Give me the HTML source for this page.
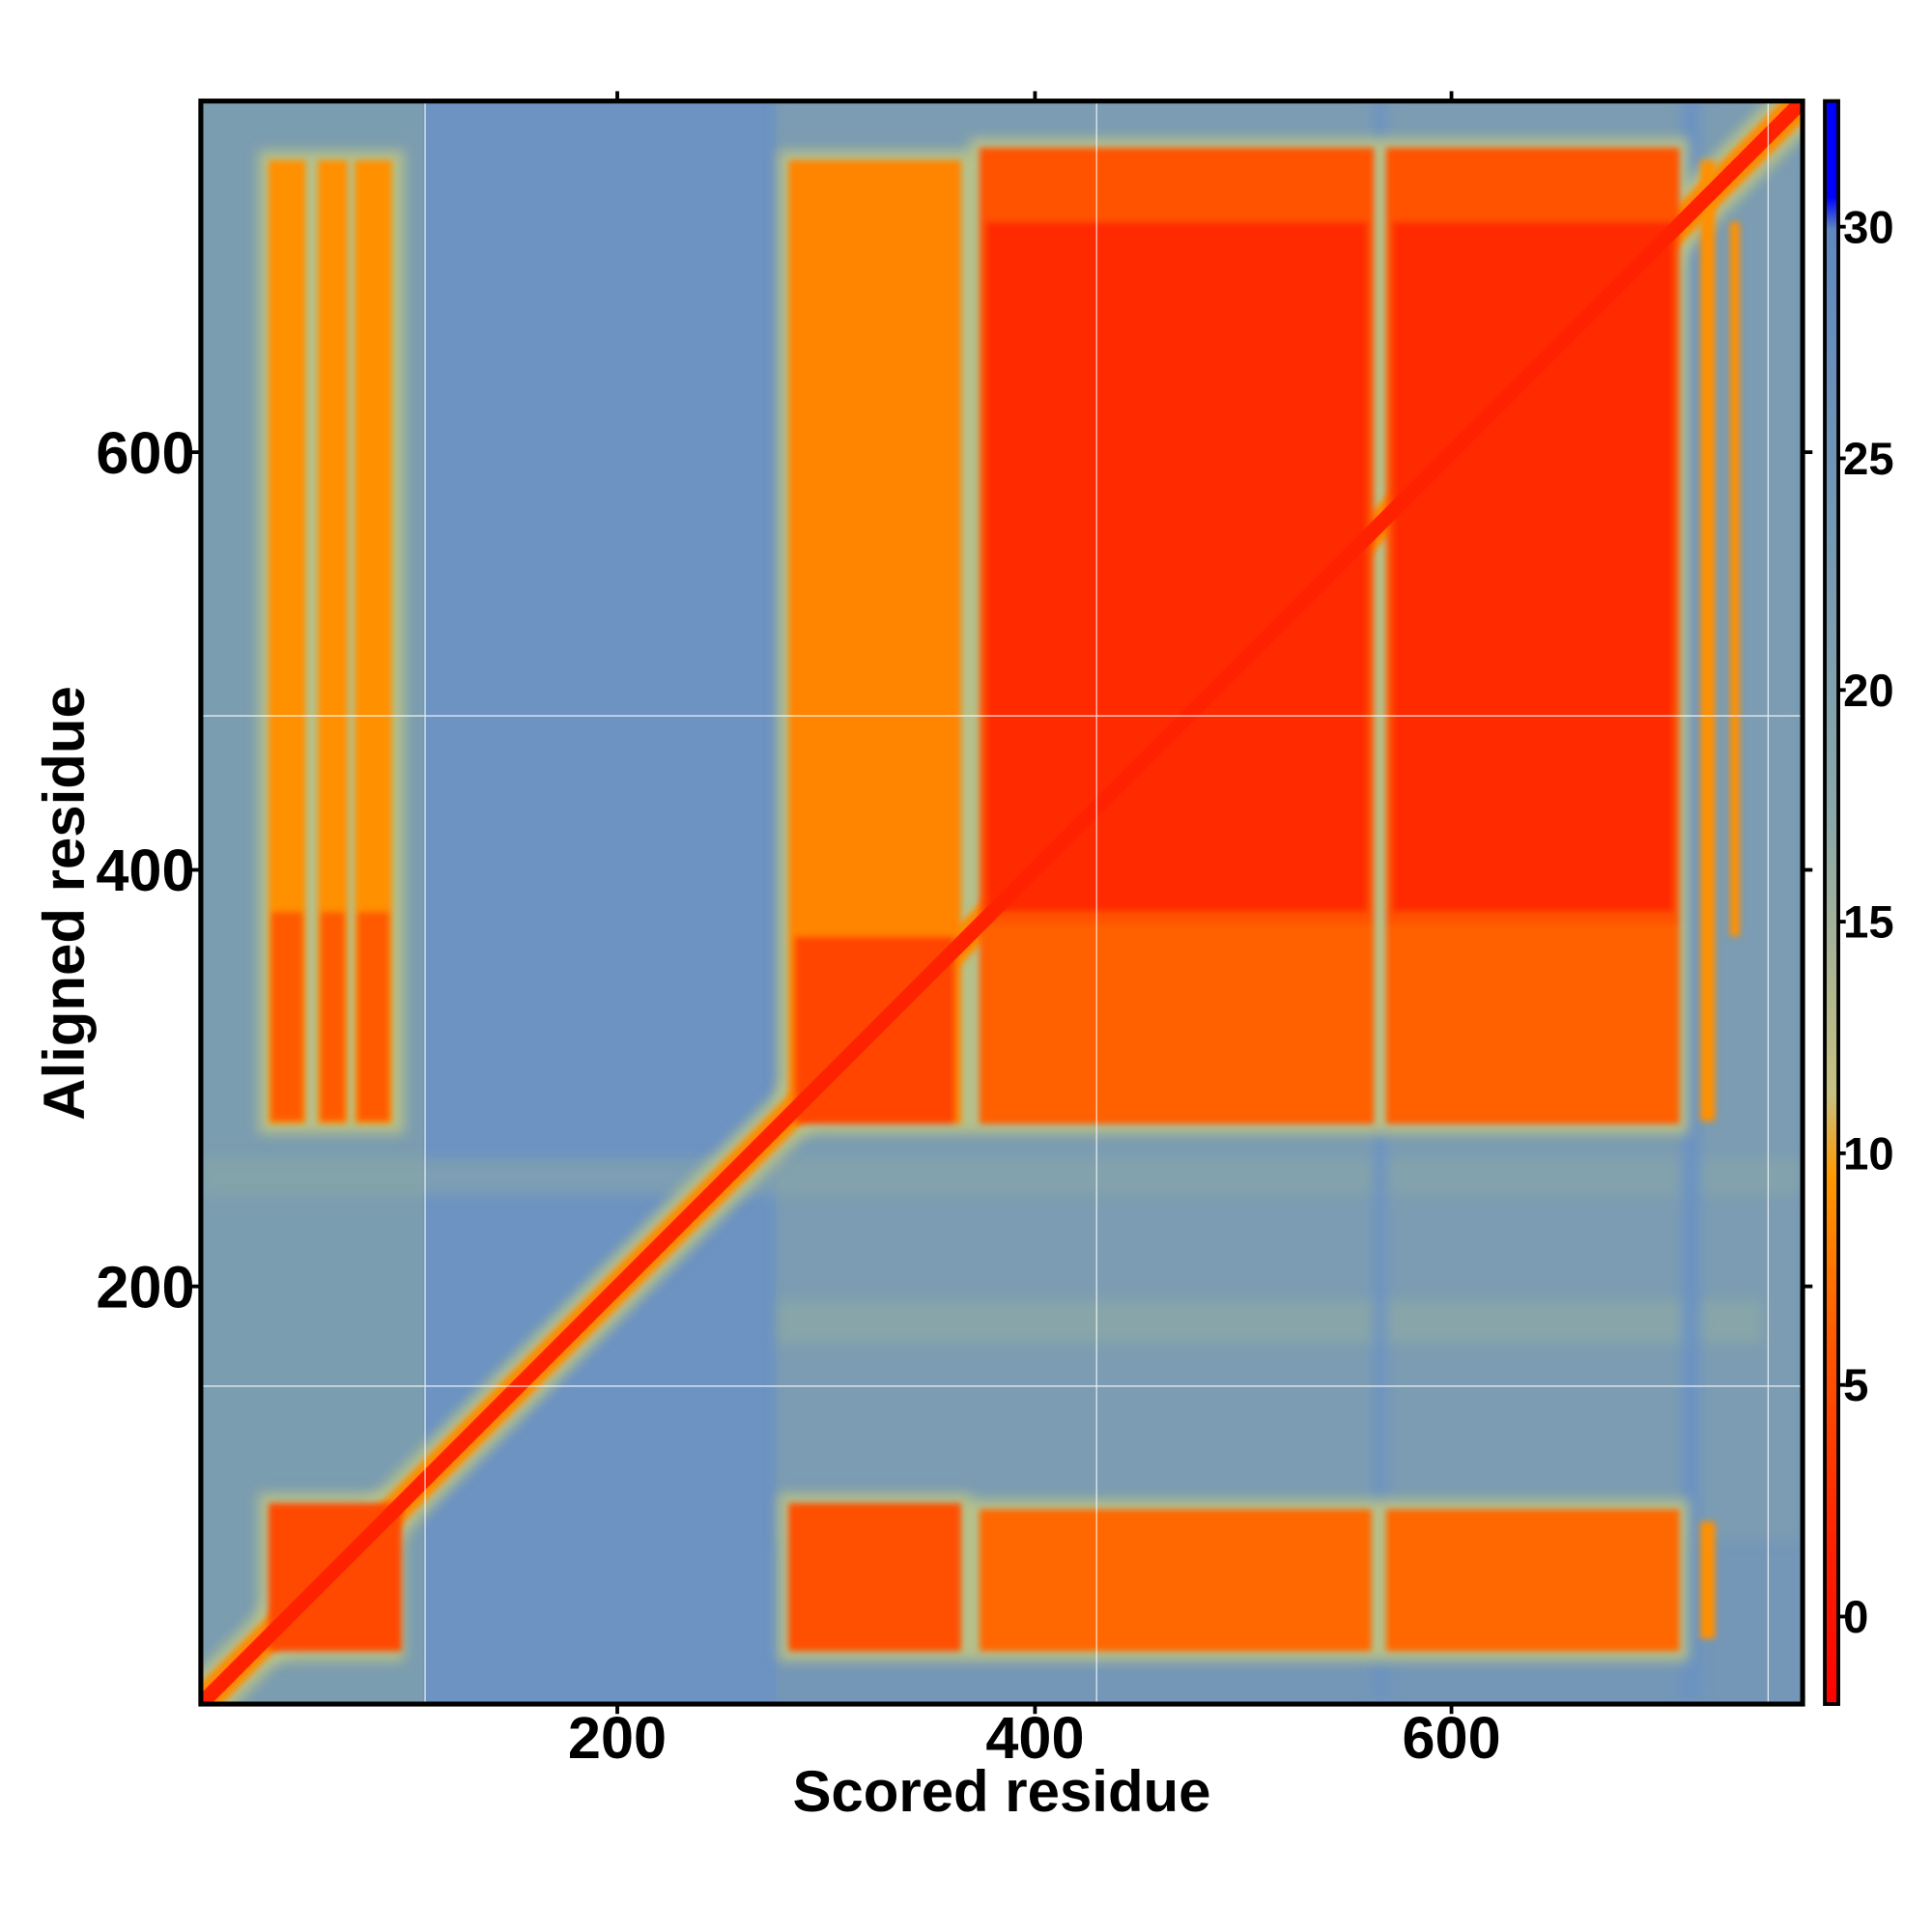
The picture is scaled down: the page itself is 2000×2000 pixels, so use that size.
<!DOCTYPE html>
<html><head><meta charset="utf-8"><style>
html,body{margin:0;padding:0;background:#fff;}
svg{display:block;}
text{font-family:"Liberation Sans",sans-serif;font-weight:bold;}
</style></head><body>
<svg width="2000" height="2000" viewBox="0 0 1568 1568" xmlns="http://www.w3.org/2000/svg">
<defs>
<filter id="b" x="-10%" y="-10%" width="120%" height="120%"><feGaussianBlur stdDeviation="5"/></filter>
<filter id="b2" x="-10%" y="-10%" width="120%" height="120%"><feGaussianBlur stdDeviation="2.5"/></filter>
<clipPath id="c"><rect x="163" y="82" width="1300" height="1301"/></clipPath>
<linearGradient id="cb" x1="0" y1="1" x2="0" y2="0">
<stop offset="0" stop-color="#ff0000"/>
<stop offset="0.1" stop-color="#ff2200"/>
<stop offset="0.22" stop-color="#ff5500"/>
<stop offset="0.33" stop-color="#ff9900"/>
<stop offset="0.38" stop-color="#c8c080"/>
<stop offset="0.55" stop-color="#8aa8a8"/>
<stop offset="0.92" stop-color="#5f88c0"/>
<stop offset="0.94" stop-color="#0000ff"/>
<stop offset="1" stop-color="#0000ff"/>
</linearGradient>
</defs>
<g clip-path="url(#c)">
<rect x="163" y="82" width="1300" height="1301" fill="#7497b8"/>
<rect x="345" y="82" width="285" height="1301" fill="#6c93c2"/>
<rect x="163" y="82" width="180" height="1301" fill="#7b9db0"/>
<g filter="url(#b)">
<rect x="163" y="940" width="1300" height="30" fill="#8eaaa5" opacity="0.5"/>
<rect x="630" y="1055" width="800" height="35" fill="#98b0a0" opacity="0.6"/>
<rect x="630" y="80" width="830" height="1170" fill="#88a4ab" opacity="0.4"/>
<rect x="1115" y="80" width="10" height="1300" fill="#6b93c2"/>
<rect x="1365" y="80" width="15" height="1300" fill="#6b93c2"/>
</g>
<line x1="163" y1="1383" x2="1463" y2="82" stroke="#b5c08a" stroke-width="40" filter="url(#b)"/>
<g filter="url(#b)">
<rect x="210" y="122" width="118" height="798" fill="#b5c08a"/>
<rect x="632" y="122" width="156" height="798" fill="#b5c08a"/>
<rect x="787" y="112" width="336" height="808" fill="#b5c08a"/>
<rect x="1117" y="112" width="253" height="808" fill="#b5c08a"/>
<rect x="632" y="1212" width="156" height="136" fill="#b5c08a"/>
<rect x="787" y="1217" width="336" height="131" fill="#b5c08a"/>
<rect x="1117" y="1217" width="253" height="131" fill="#b5c08a"/>
<rect x="210" y="1212" width="118" height="136" fill="#b5c08a"/>
</g>
<line x1="163" y1="1383" x2="1463" y2="82" stroke="#ff8a00" stroke-width="24" filter="url(#b2)"/>
<g filter="url(#b2)">
<rect x="218" y="130" width="30" height="782" fill="#ff9000"/>
<rect x="258" y="130" width="24" height="782" fill="#ff9000"/>
<rect x="288" y="130" width="30" height="782" fill="#ff9000"/>
<rect x="220" y="740" width="26" height="170" fill="#ff5a00"/>
<rect x="260" y="740" width="20" height="170" fill="#ff5a00"/>
<rect x="290" y="740" width="26" height="170" fill="#ff5a00"/>
<rect x="640" y="130" width="140" height="782" fill="#ff8400"/>
<rect x="645" y="760" width="130" height="152" fill="#ff4400"/>
<rect x="795" y="120" width="320" height="792" fill="#ff5200"/>
<rect x="800" y="180" width="310" height="560" fill="#ff2c00"/>
<rect x="1125" y="120" width="238" height="792" fill="#ff5200"/>
<rect x="1130" y="180" width="228" height="560" fill="#ff2c00"/>
<rect x="795" y="750" width="320" height="160" fill="#ff6000"/>
<rect x="1125" y="750" width="238" height="160" fill="#ff6000"/>
<rect x="640" y="1220" width="140" height="120" fill="#ff5000"/>
<rect x="795" y="1225" width="318" height="115" fill="#ff6800"/>
<rect x="1125" y="1225" width="238" height="115" fill="#ff6800"/>
<rect x="218" y="1220" width="108" height="120" fill="#ff4800"/>
<rect x="1380" y="130" width="12" height="780" fill="#ff9000"/>
<rect x="1404" y="180" width="8" height="580" fill="#ff9000"/>
<rect x="1380" y="1235" width="12" height="95" fill="#ff9000"/>
</g>
<line x1="163" y1="1383" x2="1463" y2="82" stroke="#ff2200" stroke-width="12"/>
<g stroke="#ffffff" stroke-width="1" opacity="0.8">
<line x1="345" y1="82" x2="345" y2="1383"/>
<line x1="890" y1="82" x2="890" y2="1383"/>
<line x1="1435" y1="82" x2="1435" y2="1383"/>
<line x1="163" y1="581" x2="1463" y2="581"/>
<line x1="163" y1="1125" x2="1463" y2="1125"/>
</g>
</g>
<rect x="163" y="82" width="1300" height="1301" fill="none" stroke="#000" stroke-width="4"/>
<g stroke="#000" stroke-width="3">
<line x1="501" y1="1383" x2="501" y2="1391"/><line x1="840" y1="1383" x2="840" y2="1391"/><line x1="1178" y1="1383" x2="1178" y2="1391"/>
<line x1="501" y1="82" x2="501" y2="74"/><line x1="840" y1="82" x2="840" y2="74"/><line x1="1178" y1="82" x2="1178" y2="74"/>
<line x1="163" y1="367" x2="155" y2="367"/><line x1="163" y1="706" x2="155" y2="706"/><line x1="163" y1="1044" x2="155" y2="1044"/>
<line x1="1463" y1="367" x2="1471" y2="367"/><line x1="1463" y1="706" x2="1471" y2="706"/><line x1="1463" y1="1044" x2="1471" y2="1044"/>
</g>
<g font-size="48" text-anchor="middle">
<text x="501" y="1427">200</text><text x="840" y="1427">400</text><text x="1178" y="1427">600</text>
</g>
<g font-size="48" text-anchor="end">
<text x="158" y="384">600</text><text x="158" y="723">400</text><text x="158" y="1061">200</text>
</g>
<text x="813" y="1470" font-size="47" text-anchor="middle">Scored residue</text>
<text transform="translate(68,733) rotate(-90)" font-size="47" text-anchor="middle">Aligned residue</text>
<rect x="1481" y="82" width="11" height="1301" fill="url(#cb)" stroke="#000" stroke-width="3"/>
<g stroke="#000" stroke-width="3">
<line x1="1492" y1="184" x2="1498" y2="184"/><line x1="1492" y1="372" x2="1498" y2="372"/><line x1="1492" y1="560" x2="1498" y2="560"/><line x1="1492" y1="748" x2="1498" y2="748"/><line x1="1492" y1="936" x2="1498" y2="936"/><line x1="1492" y1="1124" x2="1498" y2="1124"/><line x1="1492" y1="1312" x2="1498" y2="1312"/>
</g>
<g font-size="37">
<text x="1496" y="197">30</text><text x="1496" y="385">25</text><text x="1496" y="573">20</text><text x="1496" y="761">15</text><text x="1496" y="949">10</text><text x="1496" y="1137">5</text><text x="1496" y="1325">0</text>
</g>
</svg>
</body></html>
